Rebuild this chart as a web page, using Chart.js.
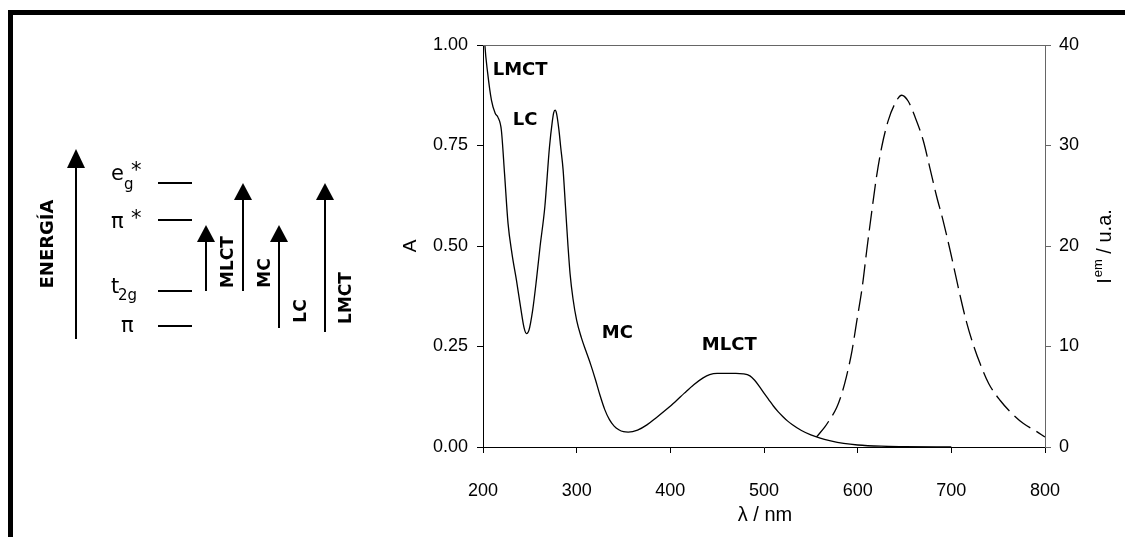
<!DOCTYPE html>
<html>
<head>
<meta charset="utf-8">
<script src="https://cdn.jsdelivr.net/npm/chart.js@4"></script>
<style>
  html, body { margin: 0; padding: 0; background: #fff; }
  canvas { display: block; }
</style>
</head>
<body>
<canvas id="chart" width="1125" height="537" style="width:1125px;height:537px"></canvas>
<script>
// absorption spectrum (solid, left axis)
const absWl  = [200, 202, 205, 209, 213, 216, 219.6, 223, 226.7, 231, 235.7, 240, 244, 246.5, 249, 253, 257, 261, 266, 271, 274, 275.5, 277, 278.5, 281, 283, 285.5, 288, 290.8, 293, 296, 300, 305, 310, 315, 320, 325, 330, 335, 340, 345, 350, 355, 365, 375, 385, 395, 405, 415, 425, 435, 442, 450, 470, 478, 485, 490, 495, 500, 505, 510, 515, 520, 525, 530, 540, 550, 560, 570, 585, 600, 625, 650, 700];
const absVal = [1.10, 1.00, 0.93, 0.863, 0.83, 0.82, 0.788, 0.68, 0.557, 0.48, 0.415, 0.35, 0.295, 0.282, 0.29, 0.34, 0.415, 0.50, 0.597, 0.747, 0.81, 0.832, 0.838, 0.83, 0.79, 0.745, 0.69, 0.60, 0.498, 0.43, 0.37, 0.315, 0.272, 0.238, 0.205, 0.168, 0.128, 0.093, 0.068, 0.052, 0.043, 0.038, 0.037, 0.042, 0.055, 0.073, 0.092, 0.112, 0.134, 0.155, 0.172, 0.18, 0.183, 0.183, 0.182, 0.177, 0.166, 0.151, 0.134, 0.118, 0.102, 0.088, 0.076, 0.065, 0.056, 0.041, 0.030, 0.022, 0.016, 0.009, 0.005, 0.002, 0.001, 0];

// emission spectrum (dashed, right axis)
const emWl  = [556, 565, 570, 577.5, 583, 588, 594, 599, 605, 609.6, 615, 620.3, 626, 632.7, 640, 647, 654, 661, 670, 677, 684.4, 691, 698.6, 705, 710, 716, 723, 730.7, 740, 752, 765, 777, 790, 800];
const emVal = [1.0, 2.0, 2.7, 3.9, 5.3, 7.0, 9.6, 12.5, 16.0, 19.5, 23.4, 27.0, 30.0, 32.5, 34.2, 35.0, 34.4, 32.9, 30.5, 27.8, 24.9, 22.6, 19.6, 16.9, 14.8, 12.5, 10.3, 8.3, 6.3, 4.65, 3.3, 2.33, 1.6, 1.0];

const bandNames = ['LMCT', 'LC', 'MC', 'MLCT'];
const bandAt = [[210.4, 0.937], [231.7, 0.812], [326.8, 0.284], [433.6, 0.253]];

Chart.defaults.font.family = '"Liberation Sans", Arial, sans-serif';
Chart.defaults.color = '#000';

const bold = '"DejaVu Sans", Verdana, sans-serif';

function arrow(ctx, x, y0, y1, headLen, headW) {
  ctx.beginPath();
  ctx.moveTo(x, y0);
  ctx.lineTo(x, y1 + headLen - 1);
  ctx.stroke();
  ctx.beginPath();
  ctx.moveTo(x, y1);
  ctx.lineTo(x - headW / 2, y1 + headLen);
  ctx.lineTo(x + headW / 2, y1 + headLen);
  ctx.closePath();
  ctx.fill();
}

function vtext(ctx, txt, x, y, font) {
  ctx.save();
  ctx.translate(x, y);
  ctx.rotate(-Math.PI / 2);
  ctx.font = font;
  ctx.textAlign = 'center';
  ctx.textBaseline = 'alphabetic';
  ctx.fillText(txt, 0, 0);
  ctx.restore();
}

const extras = {
  id: 'extras',
  afterDraw(chart) {
    const ctx = chart.ctx;
    const a = chart.chartArea;
    const sx = chart.scales.x, sy = chart.scales.y;
    ctx.save();
    ctx.fillStyle = '#000';
    ctx.strokeStyle = '#000';

    // outer frame (top and left)
    ctx.fillRect(8, 10, 1117, 5);
    ctx.fillRect(8, 10, 5, 527);

    // gray top line of plot
    ctx.strokeStyle = '#666';
    ctx.lineWidth = 1;
    ctx.beginPath();
    ctx.moveTo(a.left, a.top + 0.5);
    ctx.lineTo(a.right, a.top + 0.5);
    ctx.stroke();

    // band labels inside the plot
    ctx.fillStyle = '#000';
    ctx.font = 'bold 18px ' + bold;
    ctx.textAlign = 'left';
    ctx.textBaseline = 'middle';
    bandNames.forEach((n, i) => {
      ctx.fillText(n, sx.getPixelForValue(bandAt[i][0]), sy.getPixelForValue(bandAt[i][1]));
    });

    // axis titles
    vtext(ctx, 'A', 416, a.top + (a.bottom - a.top) / 2, '19px "Liberation Sans", Arial');
    ctx.font = '20px "Liberation Sans", Arial';
    ctx.textAlign = 'center';
    ctx.textBaseline = 'alphabetic';
    ctx.fillText('\u03bb / nm', (a.left + a.right) / 2 + 1, 521);

    // right title: I^em / u.a.
    ctx.save();
    ctx.translate(1111, 247);
    ctx.rotate(-Math.PI / 2);
    ctx.textAlign = 'left';
    ctx.textBaseline = 'alphabetic';
    const big = '20px "Liberation Sans", Arial', small = '13px "Liberation Sans", Arial';
    ctx.font = big; const w1 = ctx.measureText('I').width;
    ctx.font = small; const w2 = ctx.measureText('em').width;
    ctx.font = big; const w3 = ctx.measureText(' / u.a.').width;
    let px = -(w1 + w2 + w3) / 2;
    ctx.fillText('I', px, 0); px += w1 + 1;
    ctx.font = small; ctx.fillText('em', px, -9); px += w2;
    ctx.font = big; ctx.fillText(' / u.a.', px, 0);
    ctx.restore();

    // energy level diagram
    ctx.strokeStyle = '#000';
    ctx.lineWidth = 2;
    arrow(ctx, 76, 339, 149, 19, 18);
    vtext(ctx, 'ENERG\u00cdA', 53, 244, 'bold 18px ' + bold);

    const levels = [183, 220, 291, 326];
    levels.forEach(y => {
      ctx.beginPath();
      ctx.moveTo(158, y);
      ctx.lineTo(192, y);
      ctx.stroke();
    });

    ctx.textAlign = 'left';
    ctx.textBaseline = 'alphabetic';
    const reg = '21px "DejaVu Sans", Verdana, sans-serif';
    const sub = '15px "DejaVu Sans", Verdana, sans-serif';
    ctx.font = reg; ctx.fillText('e', 111, 180);
    ctx.font = sub; ctx.fillText('g', 124, 189);
    ctx.font = reg; ctx.fillText('*', 131, 177);
    ctx.font = reg; ctx.fillText('\u03c0', 111, 228);
    ctx.font = reg; ctx.fillText('*', 131, 225);
    ctx.font = reg; ctx.fillText('t', 111, 293);
    ctx.font = sub; ctx.fillText('2g', 118, 300);
    ctx.font = reg; ctx.fillText('\u03c0', 121, 332);

    arrow(ctx, 206, 291, 225, 17, 18);
    arrow(ctx, 243, 291, 183, 17, 18);
    arrow(ctx, 279, 328, 225, 17, 18);
    arrow(ctx, 325, 332, 183, 17, 18);

    const lf = 'bold 17px ' + bold;
    vtext(ctx, 'MLCT', 233, 262, lf);
    vtext(ctx, 'MC', 270, 273, lf);
    vtext(ctx, 'LC', 306, 311, lf);
    vtext(ctx, 'LMCT', 351, 298, lf);

    ctx.restore();
  }
};

const ctx = document.getElementById('chart').getContext('2d');
const chart = new Chart(ctx, {
  type: 'line',
  data: {
    datasets: [{
      data: absWl.map((x, i) => ({ x: x, y: absVal[i] })),
      yAxisID: 'y',
      borderColor: '#000',
      borderWidth: 1.3,
      pointRadius: 0,
      cubicInterpolationMode: 'monotone',
      fill: false
    }, {
      data: emWl.map((x, i) => ({ x: x, y: emVal[i] })),
      yAxisID: 'y2',
      borderColor: '#000',
      borderWidth: 1.3,
      borderDash: [20, 7],
      pointRadius: 0,
      cubicInterpolationMode: 'monotone',
      fill: false
    }]
  },
  options: {
    responsive: false,
    animation: false,
    layout: { padding: { top: 45, left: 0, right: 0, bottom: 0 } },
    plugins: { legend: { display: false }, tooltip: { enabled: false } },
    scales: {
      x: {
        type: 'linear', min: 200, max: 800,
        ticks: { stepSize: 100, font: { size: 18 }, padding: 27, color: '#000' },
        grid: { drawOnChartArea: false, tickLength: 6, color: '#000' },
        border: { color: '#000' },
        afterFit: s => { s.height = 90; }
      },
      y: {
        position: 'left', min: 0, max: 1,
        ticks: { stepSize: 0.25, font: { size: 18 }, padding: 9, color: '#000', callback: v => v.toFixed(2) },
        grid: { drawOnChartArea: false, tickLength: 6, color: '#000' },
        border: { color: '#000' },
        afterFit: s => { s.width = 483; }
      },
      y2: {
        position: 'right', min: 0, max: 40,
        ticks: { stepSize: 10, font: { size: 18 }, padding: 8, color: '#000' },
        grid: { drawOnChartArea: false, tickLength: 6, color: '#666' },
        border: { color: '#666' },
        afterFit: s => { s.width = 80; }
      }
    }
  },
  plugins: [extras]
});
</script>
</body>
</html>
